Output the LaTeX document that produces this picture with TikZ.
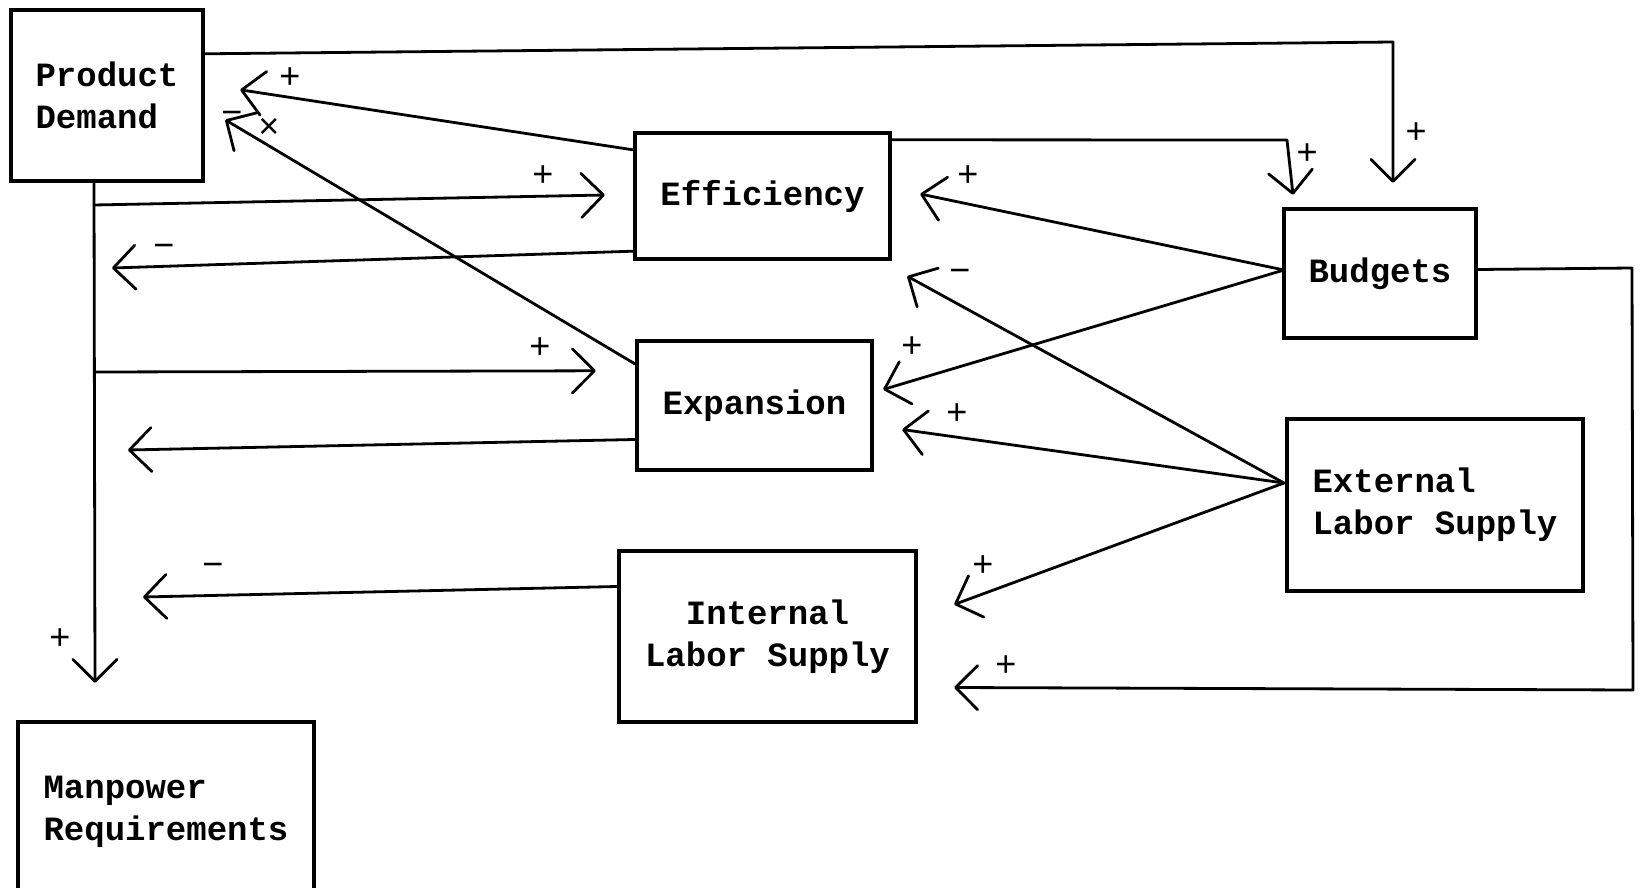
\documentclass[tikz,border=0pt]{standalone}
\usepackage{fontspec}
\setmainfont{Liberation Mono}
\newfontfamily\signfont{Liberation Sans}
\usetikzlibrary{arrows.meta}
\begin{document}
\begin{tikzpicture}[x=0.5pt,y=-0.5pt,
  box/.style={draw,line width=2.2pt,rectangle,inner sep=0pt,
    font=\fontsize{17}{21}\selectfont\bfseries,align=center},
  conn/.style={line width=1.4pt,line cap=round,line join=round},
  arr/.style={conn,-{Straight Barb[length=11pt,width=22pt,round]}},
  sgn/.style={font=\signfont\fontsize{18}{18}\selectfont,inner sep=0pt}]
\useasboundingbox (0,0) rectangle (1640,888);
\clip (0,0) rectangle (1640,888);
% boxes
\node[box,minimum width=96pt,minimum height=85.5pt,align=left] (pd) at (107,95.5) {Product\\Demand};
\node[box,minimum width=127.5pt,minimum height=63pt] (eff) at (762.5,196) {Efficiency};
\node[box,minimum width=96pt,minimum height=64.5pt] (bud) at (1380,273.5) {Budgets};
\node[box,minimum width=117.5pt,minimum height=64.5pt] (exp) at (754.5,405.5) {Expansion};
\node[box,minimum width=148pt,minimum height=86pt,align=left] (ext) at (1435,505) {External\\Labor Supply};
\node[box,minimum width=148.5pt,minimum height=85.5pt] (int) at (767.5,636.5) {Internal\\Labor Supply};
\node[box,minimum width=148pt,minimum height=114pt,align=left] (mp) at (166,836) {Manpower\\Requirements\\\strut};
% helper coordinates
\coordinate (c1) at (1393,42);
\coordinate (c2) at (1287,140);
\coordinate (c3) at (1632,268);
\coordinate (c4) at (1633,690);
\coordinate (v1) at (94,205);
\coordinate (v2) at (95,372);
\coordinate (t1) at (112,268);
\coordinate (t2) at (128,450);
\coordinate (t3) at (143,597);
\coordinate (bp) at (1284,270);
\coordinate (ep) at (1284,483);
% connectors
\draw[arr] ([yshift=-23pt]pd.north east) -- (c1) -- ([xshift=6.5pt,yshift=12pt]bud.north);
\draw[arr] ([yshift=-4.5pt]eff.north east) -- (c2) -- ([xshift=-43.5pt,yshift=6pt]bud.north);
\draw[arr] ([yshift=-9.5pt]eff.north west) -- ([xshift=17.5pt,yshift=-41pt]pd.north east);
\draw[arr] ([yshift=-12.5pt]exp.north west) -- ([xshift=10pt,yshift=-56pt]pd.north east);
\draw[arr] ([xshift=-6.5pt]pd.south) -- ([xshift=-35.5pt,yshift=18.5pt]mp.north);
\draw[arr] (v1) -- ([xshift=-14pt,yshift=0.5pt]eff.west);
\draw[arr] ([yshift=5pt]eff.south west) -- (t1);
\draw[arr] (v2) -- ([xshift=-19.5pt,yshift=-16pt]exp.north west);
\draw[arr] ([yshift=-17pt]exp.west) -- (t2);
\draw[arr] ([yshift=25pt]int.west) -- (t3);
\draw[arr] (bp) -- ([xshift=14pt,yshift=1pt]eff.east);
\draw[arr] (bp) -- ([xshift=4.5pt,yshift=8pt]exp.east);
\draw[arr] (ep) -- ([xshift=7.5pt,yshift=-7.5pt]eff.south east);
\draw[arr] (ep) -- ([xshift=14pt,yshift=-12pt]exp.east);
\draw[arr] (ep) -- ([xshift=18pt,yshift=16pt]int.east);
\draw[arr] ([yshift=2pt]bud.east) -- (c3) -- (c4) -- ([xshift=18pt,yshift=-25.5pt]int.east);
% signs
\node[sgn] (s1) at (1416,133) {+};
\node[sgn] (s2) at (1307,154) {+};
\node[sgn] (s3) at (290,78) {+};
\node[sgn] (s4) at (232,118) {−};
\node[sgn] (s5) at (269,128) {×};
\node[sgn] (s6) at (60,639) {+};
\node[sgn] (s7) at (543,176) {+};
\node[sgn] (s8) at (164,251) {−};
\node[sgn] (s9) at (540,348) {+};
\node[sgn] (s10) at (213,570) {−};
\node[sgn] (s11) at (968,176) {+};
\node[sgn] (s12) at (912,347) {+};
\node[sgn] (s13) at (960,276) {−};
\node[sgn] (s14) at (957,414) {+};
\node[sgn] (s15) at (983,566) {+};
\node[sgn] (s16) at (1006,666) {+};
\end{tikzpicture}
\end{document}
